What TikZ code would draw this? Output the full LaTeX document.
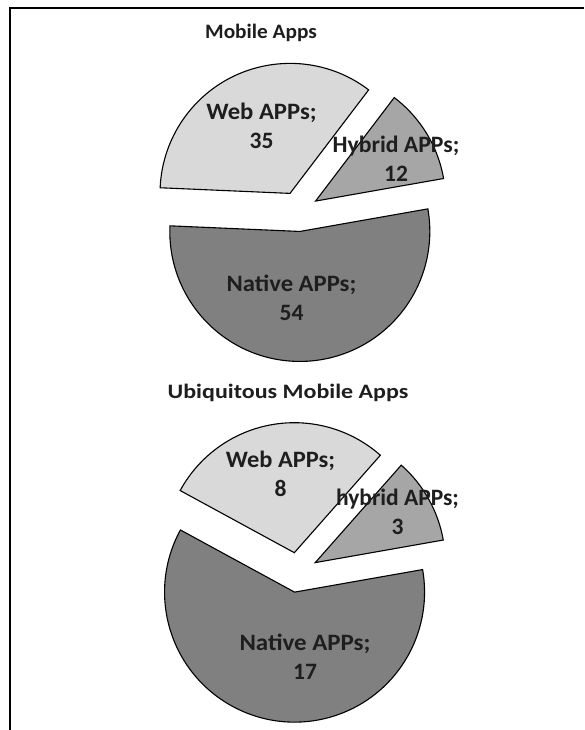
\documentclass[tikz,border=0pt]{standalone}
\usepackage{fontspec}
\usepackage{graphicx}
\setmainfont{Carlito}
\usetikzlibrary{calc}
\definecolor{webc}{HTML}{D9D9D9}
\definecolor{hybc}{HTML}{A6A6A6}
\definecolor{natc}{HTML}{808080}
\definecolor{txtc}{HTML}{1E1E1E}
\tikzset{
  slicestyle/.style={draw=black, line width=1.1pt, line join=miter},
  lbl/.style={align=center, text=txtc, font=\fontsize{23.5}{29}\selectfont\bfseries, inner sep=0pt},
  ttl/.style={text=txtc, font=\fontsize{20.5}{24}\selectfont\bfseries, inner sep=0pt},
  frameline/.style={draw=black, line width=2.4pt}
}
\newcommand\pieslice[4]{%
  \pgfmathsetmacro\midang{(#2+#3)/2}%
  \filldraw[slicestyle, fill=#4] ($(#1)+(\midang:20pt)$) -- ++(#2:130pt)
    arc[start angle=#2, end angle=#3, radius=130pt] -- cycle;%
}
\newcommand\wide[2]{\scalebox{#1}[1]{#2}}
\begin{document}
\begin{tikzpicture}[x=1pt,y=1pt]
\useasboundingbox (0,0) rectangle (584,730);
\fill[white] (0,0) rectangle (584,730);
\draw[frameline] (9.7,0) -- (9.7,722.2) -- (584,722.2);
% top pie
\coordinate (ctop) at (298.5,518.5);
\pieslice{ctop}{10}{52.77}{hybc}
\pieslice{ctop}{52.77}{177.52}{webc}
\pieslice{ctop}{177.52}{370}{natc}
% bottom pie
\coordinate (cbot) at (297.8,157.6);
\pieslice{cbot}{10}{48.57}{hybc}
\pieslice{cbot}{48.57}{151.43}{webc}
\pieslice{cbot}{151.43}{370}{natc}
% titles
\node[ttl] (t1) at (261,697) {\wide{1.04}{Mobile Apps}};
\node[ttl] (t2) at (288,337) {\wide{1.17}{Ubiquitous Mobile Apps}};
% labels
\node[lbl] (lw1) at (261.5,603.8) {\wide{1.05}{Web APPs;}\\35};
\node[lbl] (lh1) at (396,571.3) {\wide{1.01}{Hybrid APPs;}\\12};
\node[lbl] (ln1) at (291.5,432.5) {\wide{1.05}{Native APPs;}\\54};
\node[lbl] (lw2) at (280.5,256.3) {\wide{1.04}{Web APPs;}\\8};
\node[lbl] (lh2) at (397.5,218) {\wide{1.0}{hybrid APPs;}\\3};
\node[lbl] (ln2) at (305,73) {\wide{1.06}{Native APPs;}\\17};
\end{tikzpicture}
\end{document}
